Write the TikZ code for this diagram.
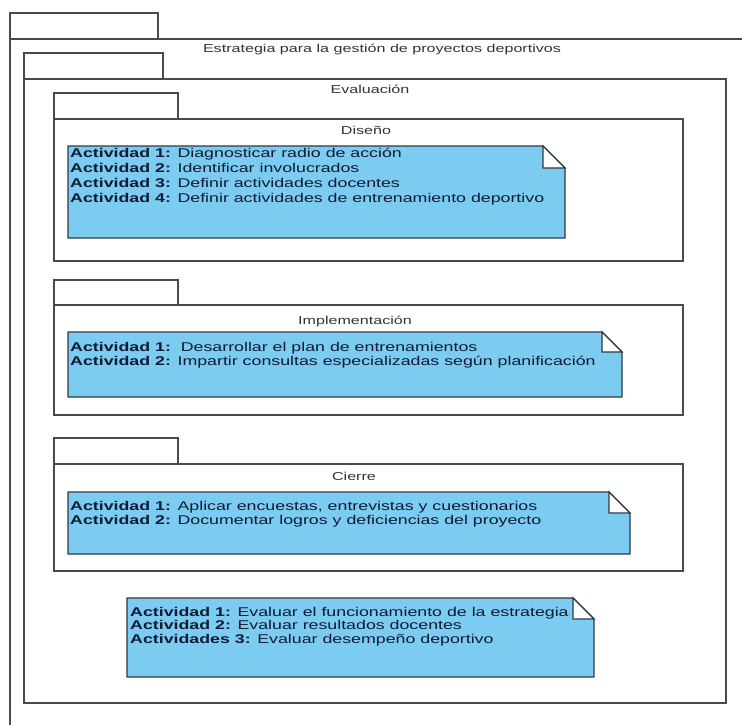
\documentclass[tikz,border=0pt]{standalone}
\usepackage{fontspec}
\setmainfont{Liberation Sans}[FakeStretch=1.4]
\definecolor{linegray}{HTML}{4A4A4A}
\definecolor{notefill}{HTML}{7CCBF0}
\definecolor{notedraw}{HTML}{2E3A44}
\definecolor{notetext}{HTML}{0E1B33}
\definecolor{labeltext}{HTML}{333333}
\newcommand{\notetxt}{\fontsize{12.7}{14.8}\selectfont}
\newcommand{\labtxt}{\fontsize{11.5}{13.5}\selectfont}
\newcommand{\drawnote}[5]{% x1,y1,x2,y2,fold
  \fill[notefill] (#1,#2) -- ({#3-#5},#2) -- (#3,{#2+#5}) -- (#3,#4) -- (#1,#4) -- cycle;
  \draw[notedraw, line width=1.2pt, line join=miter] (#1,#2) -- ({#3-#5},#2) -- (#3,{#2+#5}) -- (#3,#4) -- (#1,#4) -- cycle;
  \filldraw[fill=white, draw=notedraw, line width=1.2pt, line join=miter] ({#3-#5},#2) -- ({#3-#5},{#2+#5}) -- (#3,{#2+#5}) -- cycle;
}
\begin{document}
\begin{tikzpicture}[x=1pt,y=-1pt,
  pkg/.style={draw=linegray, line width=1.2pt},
  lab/.style={anchor=base, inner sep=0pt, text=labeltext, font=\labtxt},
  ln/.style={anchor=base west, inner sep=0pt, text=notetext, font=\notetxt}]
\useasboundingbox (0,0) rectangle (742,725);
\fill[white] (0,0) rectangle (742,725);
% outer package
\draw[pkg] (10,13) rectangle (158,39);
\draw[pkg] (742,39) -- (10,39) -- (10,725);
\node[lab] (estrategia) at (382,53) {Estrategia para la gestión de proyectos deportivos};
% Evaluacion
\draw[pkg] (24,53) rectangle (163,79);
\draw[pkg] (24,79) rectangle (726,703);
\node[lab] (evaluacion) at (370,93) {Evaluación};
% Diseno
\draw[pkg] (54,93) rectangle (178,119);
\draw[pkg] (54,119) rectangle (683,261);
\node[lab] (diseno) at (366,134) {Diseño};
\drawnote{68}{146}{565}{238}{22}
\node[ln] (d1) at (70,157.7) {\textbf{Actividad 1:} Diagnosticar radio de acción};
\node[ln] (d2) at (70,172.5) {\textbf{Actividad 2:} Identificar involucrados};
\node[ln] (d3) at (70,187.3) {\textbf{Actividad 3:} Definir actividades docentes};
\node[ln] (d4) at (70,202) {\textbf{Actividad 4:} Definir actividades de entrenamiento deportivo};
% Implementacion
\draw[pkg] (54,280) rectangle (178,305);
\draw[pkg] (54,305) rectangle (683,415);
\node[lab] (implementacion) at (355,324) {Implementación};
\drawnote{68}{332}{622}{397}{20}
\node[ln] (i1) at (70,351) {\textbf{Actividad 1:}\ \ Desarrollar el plan de entrenamientos};
\node[ln] (i2) at (70,365) {\textbf{Actividad 2:} Impartir consultas especializadas según planificación};
% Cierre
\draw[pkg] (54,438) rectangle (178,464);
\draw[pkg] (54,464) rectangle (683,571);
\node[lab] (cierre) at (354,480) {Cierre};
\drawnote{68}{492}{630}{554}{21}
\node[ln] (c1) at (70,510) {\textbf{Actividad 1:} Aplicar encuestas, entrevistas y cuestionarios};
\node[ln] (c2) at (70,524.3) {\textbf{Actividad 2:} Documentar logros y deficiencias del proyecto};
% final note
\drawnote{127}{598}{594}{677}{21}
\node[ln] (e1) at (130,616) {\textbf{Actividad 1:} Evaluar el funcionamiento de la estrategia};
\node[ln] (e2) at (130,629.5) {\textbf{Actividad 2:} Evaluar resultados docentes};
\node[ln] (e3) at (130,643) {\textbf{Actividades 3:} Evaluar desempeño deportivo};
\end{tikzpicture}
\end{document}
